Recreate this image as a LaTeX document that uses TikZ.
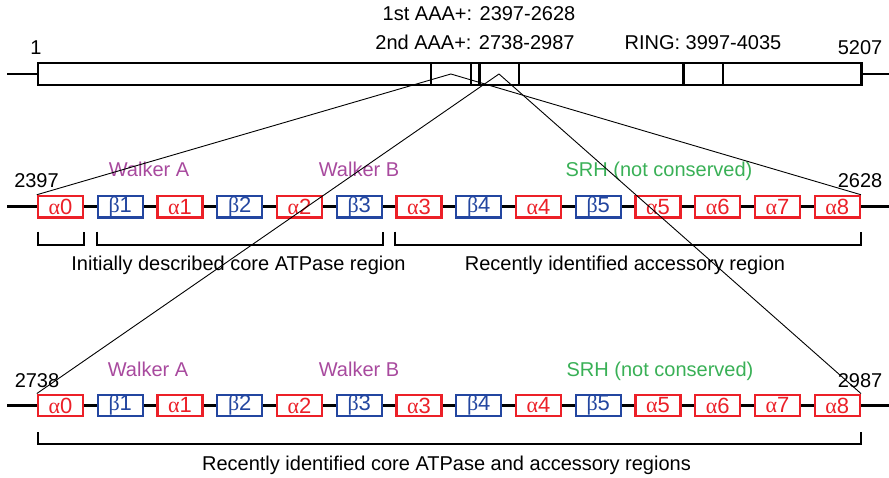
\documentclass[tikz,border=0pt]{standalone}
\usepackage{fontspec}
\setmainfont{Liberation Sans}
\newfontfamily\grk{Liberation Serif}
\definecolor{sred}{RGB}{236,32,40}
\definecolor{sblue}{RGB}{35,70,160}
\definecolor{wpurple}{RGB}{168,74,158}
\definecolor{sgreen}{RGB}{57,176,86}
\begin{document}
\begin{tikzpicture}[x=1pt,y=-1pt,
  lbl/.style={font=\fontsize{20}{20}\selectfont, inner sep=0pt, anchor=base},
  helixbox/.style={draw=sred, text=sred, line width=2.4pt, fill=white, minimum width=45pt, minimum height=21.5pt, inner sep=0pt, font=\fontsize{22}{22}\selectfont},
  strandbox/.style={helixbox, draw=sblue, text=sblue},
  thickline/.style={line width=2.4pt},
  conn/.style={line width=0.9pt},
  dom/.style={draw, line width=2.4pt, minimum height=21.5pt, inner sep=0pt},
]
\useasboundingbox (0,0) rectangle (889,478);

% protein bar
\coordinate (pL) at (7,74);
\coordinate (pR) at (889,74);
\node[dom, minimum width=823.2pt] (prot) at (449.85,74) {};
\draw[thickline] (pL) -- (prot.west);
\draw[thickline] (prot.east) -- (pR);
\node[dom, minimum width=39.7pt] (aaa1) at (450.85,74) {};
\node[dom, minimum width=39.4pt] (aaa2) at (499,74) {};
\node[dom, minimum width=39.4pt] (ring) at (703,74) {};

\node[lbl] (t1) at (479,21) {1st AAA+: 2397-2628};
\node[lbl] (t2) at (475,50) {2nd AAA+: 2738-2987};
\node[lbl] (t3) at (703,50) {RING: 3997-4035};
\node[lbl] (t4) at (36,55) {1};
\node[lbl] (t5) at (860,55) {5207};

% row 1
\coordinate (r1L) at (7,206.7);
\coordinate (r1R) at (889,206.7);
\draw[thickline] (r1L) -- (r1R);
\foreach \i/\st/\g/\n in {0/helixbox/α/0,1/strandbox/β/1,2/helixbox/α/1,3/strandbox/β/2,4/helixbox/α/2,5/strandbox/β/3,6/helixbox/α/3,7/strandbox/β/4,8/helixbox/α/4,9/strandbox/β/5,10/helixbox/α/5,11/helixbox/α/6,12/helixbox/α/7,13/helixbox/α/8}{
  \node[\st] (r1-\i) at ({60.5+59.75*\i},206.7) {{\grk\g}\n};
}
\node[lbl] (w1a) at (149,177) {\color{wpurple}Walker A};
\node[lbl] (w1b) at (359,177) {\color{wpurple}Walker B};
\node[lbl] (s1) at (659,177) {\color{sgreen}SRH (not conserved)};
\node[lbl] (n1a) at (36.5,188) {2397};
\node[lbl] (n1b) at (860,188) {2628};

\draw[thickline] (38,231.7) |- (84,245) -- (84,231.7);
\draw[thickline] (97,231.7) |- (383,245) -- (383,231.7);
\draw[thickline] (395,231.7) |- (861,245) -- (861,231.7);
\node[lbl] (b1a) at (238.5,271) {Initially described core ATPase region};
\node[lbl] (b1b) at (625,271) {Recently identified accessory region};

% row 3
\coordinate (r3L) at (7,405.5);
\coordinate (r3R) at (889,405.5);
\draw[thickline] (r3L) -- (r3R);
\foreach \i/\st/\g/\n in {0/helixbox/α/0,1/strandbox/β/1,2/helixbox/α/1,3/strandbox/β/2,4/helixbox/α/2,5/strandbox/β/3,6/helixbox/α/3,7/strandbox/β/4,8/helixbox/α/4,9/strandbox/β/5,10/helixbox/α/5,11/helixbox/α/6,12/helixbox/α/7,13/helixbox/α/8}{
  \node[\st] (r3-\i) at ({60.5+59.75*\i},405.5) {{\grk\g}\n};
}
\node[lbl] (w3a) at (148,377) {\color{wpurple}Walker A};
\node[lbl] (w3b) at (359,377) {\color{wpurple}Walker B};
\node[lbl] (s3) at (660,377) {\color{sgreen}SRH (not conserved)};
\node[lbl] (n3a) at (37,387) {2738};
\node[lbl] (n3b) at (860,387) {2987};

\draw[thickline] (38,432) |- (861,444) -- (861,432);
\node[lbl] (b3) at (446.5,470) {Recently identified core ATPase and accessory regions};

% zoom connectors
\draw[conn] (aaa1.center) -- (r1-0.north west);
\draw[conn] (aaa1.center) -- (r1-13.north east);
\draw[conn] (aaa2.center) -- (r3-0.north west);
\draw[conn] (aaa2.center) -- (r3-13.north east);
\end{tikzpicture}
\end{document}
